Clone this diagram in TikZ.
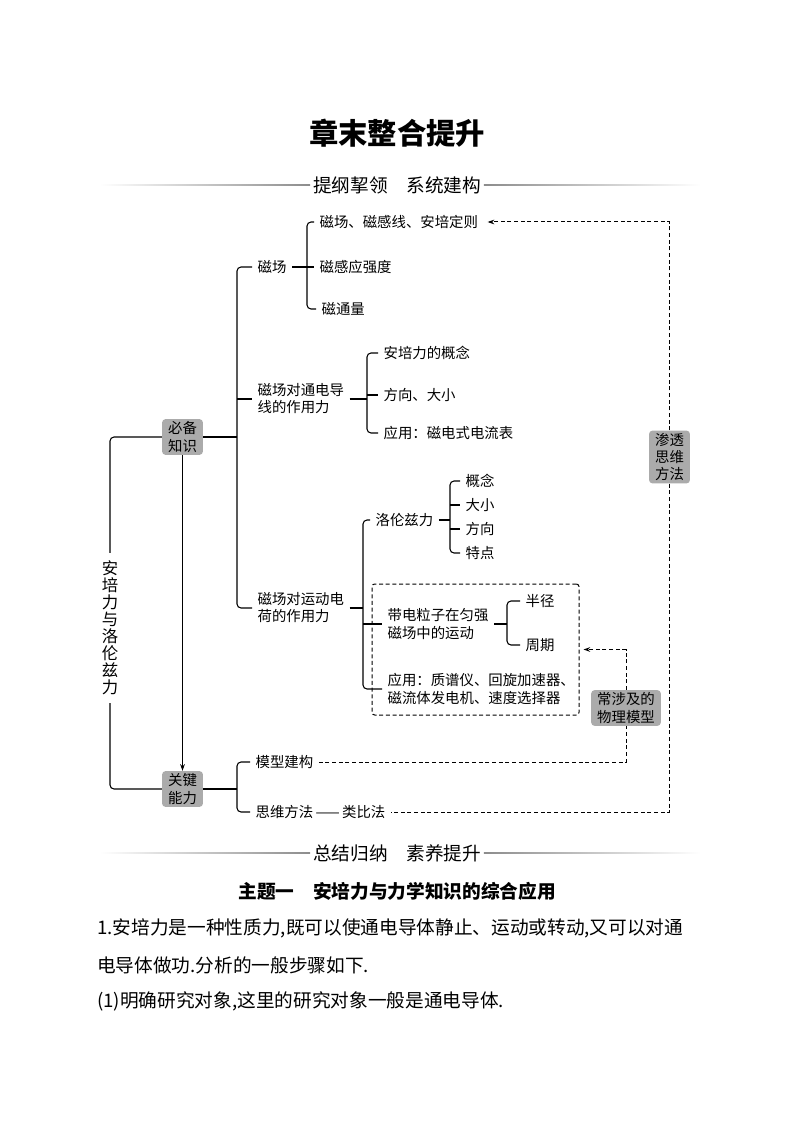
\documentclass[tikz,border=0pt]{standalone}
\usepackage{fontspec}
\setmainfont{Noto Sans CJK SC}
\usetikzlibrary{arrows.meta}

\tikzset{
  leaf/.style={anchor=west, inner xsep=4pt, inner ysep=1pt, align=left,
    font=\fontsize{10.8}{12.8}\selectfont},
  catbox/.style={fill=black!33, rounded corners=2.5pt, inner xsep=4.5pt,
    inner ysep=2pt, align=center, font=\fontsize{10.8}{12.8}\selectfont},
  tree/.style={line width=0.8pt, rounded corners=3pt},
  link/.style={dash pattern=on 3pt off 2pt, line width=0.75pt},
  headline/.style={inner xsep=2pt, font=\fontsize{14}{17}\selectfont},
  bodyline/.style={anchor=west, inner sep=0pt, font=\fontsize{14}{17}\selectfont},
}

\begin{document}
\begin{tikzpicture}[x=0.75pt,y=-0.75pt,>={Stealth[length=5pt,width=3.5pt]}]
\useasboundingbox (0,0) rectangle (794,1123);

% headings
\node[font=\fontsize{22}{26}\selectfont\bfseries] (title) at (397,133) {章末整合提升};
\node[headline] (head1) at (397,185) {提纲挈领　系统建构};
\shade[left color=white,right color=black!45] (100,184.4) rectangle ([yshift=-0.5pt]head1.west);
\shade[left color=black!45,right color=white] ([yshift=0.5pt]head1.east) rectangle (700,185.7);

% spines
\coordinate (mainx) at (237,0);
\coordinate (fldx) at (307,0);
\coordinate (wirex) at (367,0);
\coordinate (chgx) at (363,0);
\coordinate (lorx) at (450,0);
\coordinate (motx) at (507,0);
\coordinate (lftx) at (110,0);

% gray boxes
\node[catbox] (bx) at (182.5,437) {必备\\知识};
\node[catbox] (kx) at (182.5,789) {关键\\能力};
\node[catbox] (st) at (669.5,457) {渗透\\思维\\方法};
\node[catbox] (mb) at (626,708) {常涉及的\\物理模型};

% magnetic field
\node[leaf] (cc) at (252,267) {磁场};
\node[leaf] (c1) at (314,222) {磁场、磁感线、安培定则};
\node[leaf] (c2) at (314,267) {磁感应强度};
\node[leaf] (c3) at (316,309) {磁通量};

% force on a wire
\node[leaf] (bb) at (252,399) {磁场对通电导\\线的作用力};
\node[leaf] (b1) at (378,353) {安培力的概念};
\node[leaf] (b2) at (378,395) {方向、大小};
\node[leaf] (b3) at (378,433) {应用：磁电式电流表};

% force on a moving charge
\node[leaf] (dd) at (252,608) {磁场对运动电\\荷的作用力};
\node[leaf] (lz) at (370,520) {洛伦兹力};
\node[leaf] (l1) at (460,481) {概念};
\node[leaf] (l2) at (460,505) {大小};
\node[leaf] (l3) at (460,529) {方向};
\node[leaf] (l4) at (460,553) {特点};
\node[draw, link, rounded corners=2pt, minimum width=155.25pt,
  minimum height=98.25pt] (dbox) at (475.5,649.5) {};
\node[leaf] (dz) at (382,624) {带电粒子在匀强\\磁场中的运动};
\node[leaf] (r1) at (520,601) {半径};
\node[leaf] (r2) at (520,645) {周期};
\node[leaf] (ap) at (382,689) {应用：质谱仪、回旋加速器、\\磁流体发电机、速度选择器};

% key abilities
\node[leaf] (mx) at (250,762) {模型建构};
\node[leaf] (sw) at (250,812) {思维方法\,——\,类比法};

% tree lines
\draw[tree] (cc.west) -- (cc.west -| mainx) -- (dd.west -| mainx) -- (dd.west);
\draw[tree] (bx.east) -- (bx.east -| mainx);
\draw[tree] (bb.west -| mainx) -- (bb.west);

\draw[tree] (c1.west) -- (c1.west -| fldx) -- (c3.west -| fldx) -- (c3.west);
\draw[tree] (cc.east) -- (c2.west);

\draw[tree] (b1.west) -- (b1.west -| wirex) -- (b3.west -| wirex) -- (b3.west);
\draw[tree] (bb.east) -- (bb.east -| wirex);
\draw[tree] (b2.west -| wirex) -- (b2.west);

\draw[tree] (lz.west) -- (lz.west -| chgx) -- (ap.west -| chgx) -- (ap.west);
\draw[tree] (dd.east) -- (dd.east -| chgx);
\draw[tree] (dz.west -| chgx) -- (dz.west);

\draw[tree] (l1.west) -- (l1.west -| lorx) -- (l4.west -| lorx) -- (l4.west);
\draw[tree] (lz.east) -- (lz.east -| lorx);
\draw[tree] (l2.west -| lorx) -- (l2.west);
\draw[tree] (l3.west -| lorx) -- (l3.west);

\draw[tree] (r1.west) -- (r1.west -| motx) -- (r2.west -| motx) -- (r2.west);
\draw[tree] (dz.east) -- (dz.east -| motx);

\draw[tree] (mx.west) -- (mx.west -| mainx) -- (sw.west -| mainx) -- (sw.west);
\draw[tree] (kx.east) -- (kx.east -| mainx);

\draw[tree] (bx.west) -- (bx.west -| lftx) -- (kx.west -| lftx) -- (kx.west);
\draw[->, line width=0.8pt] (bx) -- (kx);
\node[fill=white, align=center, inner xsep=1pt, inner ysep=6pt,
  font=\fontsize{12.3}{12.8}\selectfont] (side) at (110,628) {安\\培\\力\\与\\洛\\伦\\兹\\力};

% dashed links
\draw[link,->] (st.north) |- ([xshift=3pt]c1.east);
\draw[link] (st.south) |- (sw.east);
\draw[link] (mx.east) -| (mb.south);
\draw[link,->] (mb.north) |- ([xshift=3pt]dbox.east);

% lower part
\node[headline] (head2) at (397,853) {总结归纳　素养提升};
\shade[left color=white,right color=black!45] (100,852.4) rectangle ([yshift=-0.5pt]head2.west);
\shade[left color=black!45,right color=white] ([yshift=0.5pt]head2.east) rectangle (700,853.7);
\node[font=\fontsize{14}{17}\selectfont\bfseries] (topic) at (397,891) {主题一　安培力与力学知识的综合应用};
\node[bodyline] (p1) at (97,928) {1.安培力是一种性质力,既可以使通电导体静止、运动或转动,又可以对通};
\node[bodyline] (p2) at (97,965) {电导体做功.分析的一般步骤如下.};
\node[bodyline] (p3) at (97,1001) {(1)明确研究对象,这里的研究对象一般是通电导体.};
\end{tikzpicture}
\end{document}
